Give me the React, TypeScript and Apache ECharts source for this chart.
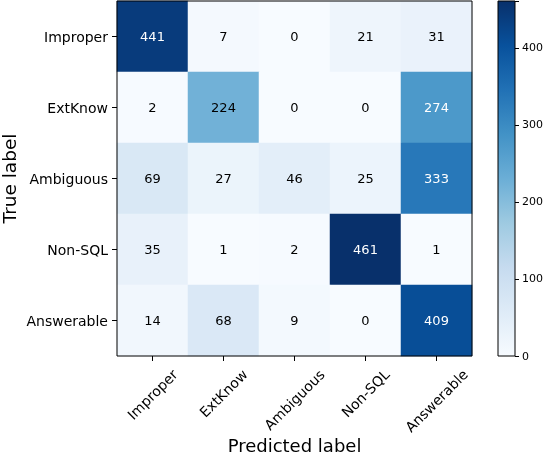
import React, { useEffect, useRef } from "react";
import * as echarts from "echarts";

const trueLabels = ["Improper", "ExtKnow", "Ambiguous", "Non-SQL", "Answerable"];
const predLabels = ["Improper", "ExtKnow", "Ambiguous", "Non-SQL", "Answerable"];
const rowImproper = [441, 7, 0, 21, 31];
const rowExtKnow = [2, 224, 0, 0, 274];
const rowAmbiguous = [69, 27, 46, 25, 333];
const rowNonSQL = [35, 1, 2, 461, 1];
const rowAnswerable = [14, 68, 9, 0, 409];
const matrix = [rowImproper, rowExtKnow, rowAmbiguous, rowNonSQL, rowAnswerable];
const colorbarTicks = [0, 100, 200, 300, 400];

const blues = ["#f7fbff", "#deebf7", "#c6dbef", "#9ecae1", "#6baed6", "#4292c6", "#2171b5", "#08519c", "#08306b"];
const FONT = "DejaVu Sans";

export default function App() {
  const ref = useRef<HTMLDivElement>(null);
  useEffect(() => {
    if (!ref.current) return;
    const chart = echarts.init(ref.current, undefined, { renderer: "svg" });
    const maxV = Math.max(...matrix.flat());
    const thresh = maxV / 2;
    const data: any[] = [];
    matrix.forEach((row, y) =>
      row.forEach((v, x) => {
        data.push({ value: [x, y, v], label: { color: v > thresh ? "#ffffff" : "#000000" } });
      })
    );
    // measure x labels for matplotlib-like centered rotated labels
    const ctx = document.createElement("canvas").getContext("2d")!;
    const xFs = 14;
    ctx.font = `${xFs}px "${FONT}"`;
    const rich: any = {};
    predLabels.forEach((lab, i) => {
      const w = ctx.measureText(lab).width;
      const D = 11 + (w + xFs) * 0.3535;
      const P = D * 1.414;
      rich["p" + i] = { fontSize: xFs, fontFamily: FONT, color: "#000", padding: [P, P, 0, 0] };
    });
    const stops = blues.map((c, i) => ({ offset: i / (blues.length - 1), color: c }));
    chart.setOption({
      animation: false,
      textStyle: { fontFamily: FONT },
      grid: [
        { left: 117, top: 1, width: 355, height: 355, show: true, z: 10, borderColor: "#000", borderWidth: 1, backgroundColor: "transparent", outerBoundsMode: "none", containLabel: false },
        { left: 498, top: 1, width: 17, height: 355, show: true, z: 10, borderColor: "#000", borderWidth: 1, backgroundColor: "transparent", outerBoundsMode: "none", containLabel: false },
      ],
      xAxis: [
        {
          type: "category",
          gridIndex: 0,
          data: predLabels,
          z: 5,
          name: "Predicted label",
          nameLocation: "middle",
          nameGap: 80,
          nameMoveOverlap: false,
          nameTextStyle: { fontSize: 18, color: "#000", fontFamily: FONT },
          axisLine: { show: false },
          axisTick: { show: true, alignWithLabel: true, length: 5, lineStyle: { color: "#000" } },
          axisLabel: {
            interval: 0,
            rotate: 45,
            align: "center",
            verticalAlign: "middle",
            margin: 0,
            fontSize: xFs,
            color: "#000",
            formatter: (val: string, idx: number) => `{p${idx}|${val}}`,
            rich,
          },
          splitLine: { show: false },
        },
        { type: "category", gridIndex: 1, data: [""], show: false },
      ],
      yAxis: [
        {
          type: "category",
          gridIndex: 0,
          data: trueLabels,
          inverse: true,
          z: 5,
          name: "True label",
          nameLocation: "middle",
          nameGap: 98,
          nameMoveOverlap: false,
          nameTextStyle: { fontSize: 18.5, color: "#000", fontFamily: FONT },
          axisLine: { show: false },
          axisTick: { show: true, alignWithLabel: true, length: 5, lineStyle: { color: "#000" } },
          axisLabel: { interval: 0, fontSize: 14, color: "#000", margin: 9 },
          splitLine: { show: false },
        },
        {
          type: "value",
          gridIndex: 1,
          position: "right",
          min: 0,
          max: maxV,
          interval: 100,
          z: 5,
          axisLine: { show: false },
          axisTick: { show: true, length: 4, lineStyle: { color: "#000" } },
          axisLabel: {
            fontSize: 11,
            color: "#000",
            margin: 7,
            formatter: (v: number) => (colorbarTicks.includes(v) ? String(v) : ""),
          },
          splitLine: { show: false },
        },
      ],
      visualMap: {
        show: false,
        seriesIndex: 0,
        dimension: 2,
        min: 0,
        max: maxV,
        inRange: { color: blues },
      },
      series: [
        {
          type: "heatmap",
          xAxisIndex: 0,
          yAxisIndex: 0,
          data,
          label: { show: true, fontSize: 13, fontFamily: FONT, formatter: (p: any) => String(p.value[2]) },
          itemStyle: { borderWidth: 0 },
          emphasis: { disabled: true },
        },
        {
          type: "bar",
          xAxisIndex: 1,
          yAxisIndex: 1,
          data: [maxV],
          barWidth: "100%",
          itemStyle: { color: new echarts.graphic.LinearGradient(0, 1, 0, 0, stops) },
          silent: true,
        },
      ],
    });
    return () => chart.dispose();
  }, []);
  return <div ref={ref} style={{ position: "fixed", left: 0, top: 0, width: 544, height: 454 }} />;
}
